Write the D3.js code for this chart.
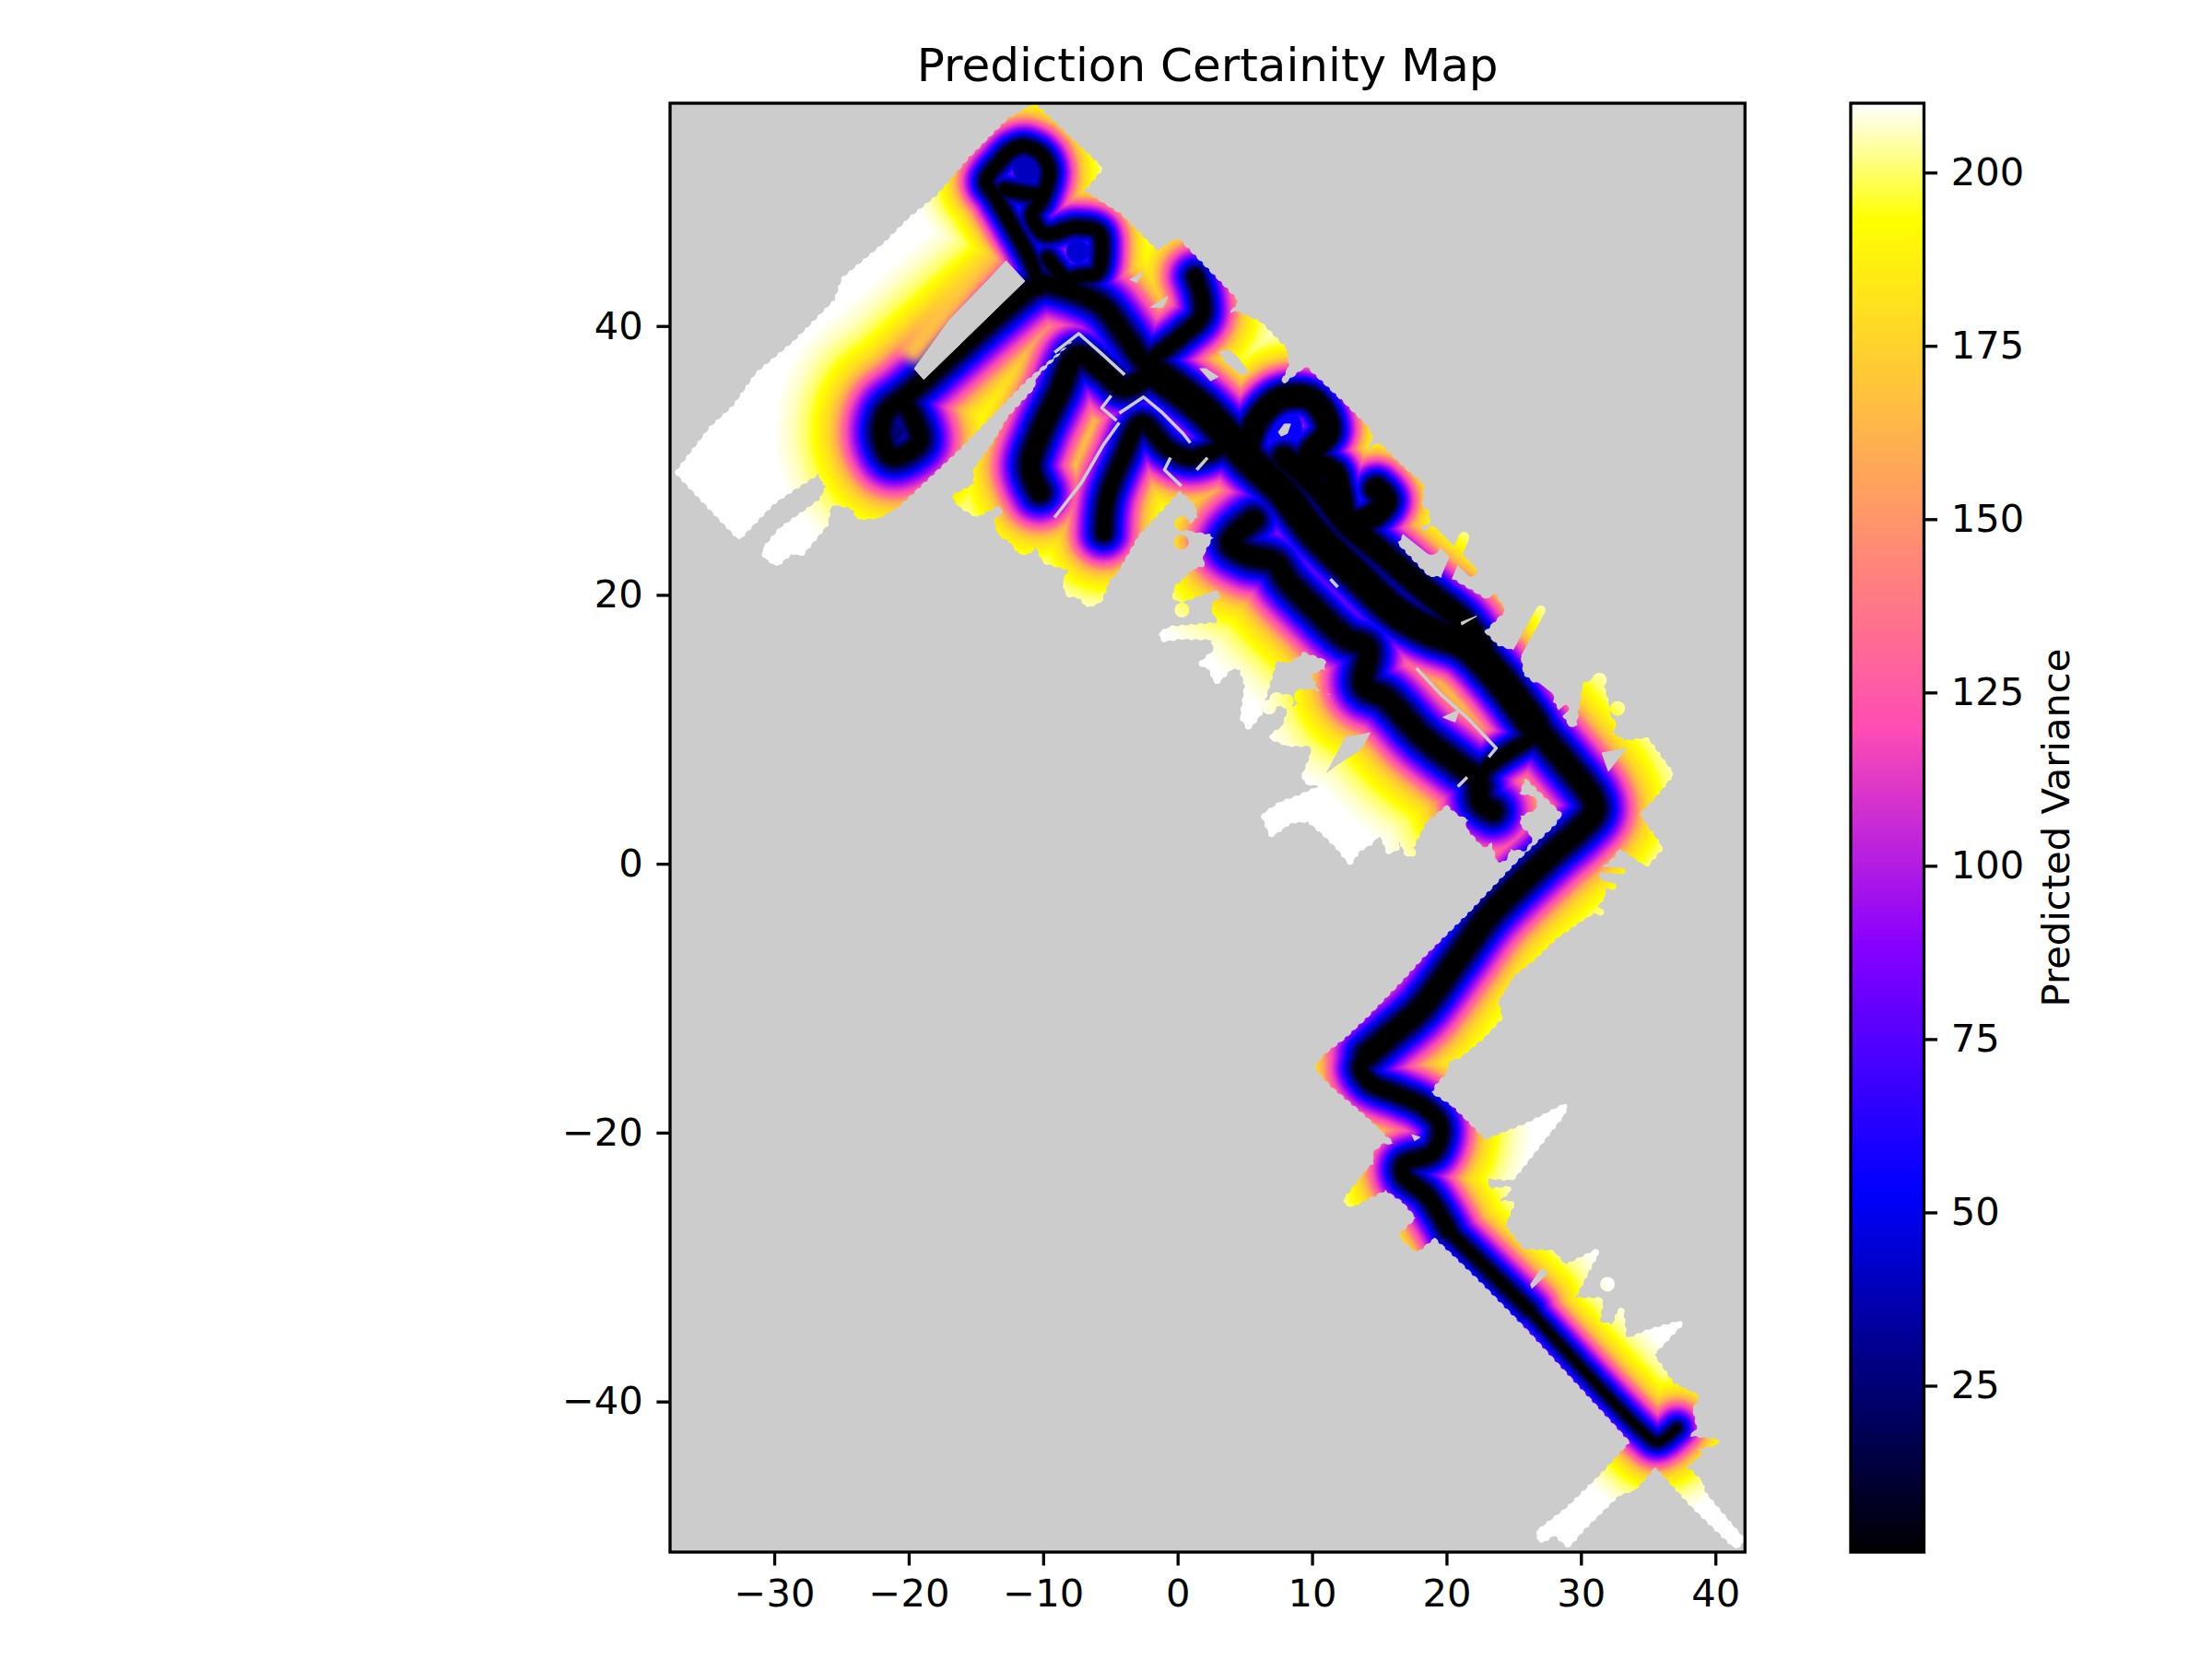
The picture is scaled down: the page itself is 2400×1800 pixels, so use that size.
<!DOCTYPE html>
<html><head><meta charset="utf-8">
<script src="https://cdn.jsdelivr.net/npm/d3@7"></script>
<style>html,body{margin:0;padding:0;background:#fff}svg{display:block}text{font-family:"DejaVu Sans";fill:#000}</style>
</head><body><svg id="c" width="2400" height="1800"></svg>
<script>
const chartTitle = "Prediction Certainity Map";
const colorbarLabel = "Predicted Variance";
const xDomain = [-37.75, 42.2];
const yDomain = [-51.2, 56.57];
const xTicks = [-30,-20,-10,0,10,20,30,40];
const yTicks = [-40,-20,0,20,40];
const varianceDomain = [1, 210];
const varianceTicks = [25,50,75,100,125,150,175,200];

const distanceStops = [0,0.12,0.24,0.4,0.59,0.85,1.15,1.45,1.76,2.2,2.62,3,3.32,4,5,5.8,7,8.5];
const varianceStops = [1,3,8,15,25,38,53,70,90,108,125,143,160,178,192,200,206,210];

// robot path pieces; each has its own spread and core of the variance profile
const armOne = [[-20.05,33.7],[-19.2,31.3],[-21.2,30.15],[-22,31.55],[-21.7,33.4],[-20.05,34.8],[-10.3,43],[-9.7,43],[-7.2,42.2],[-5.6,41.3],[-4,39.2],[-2.6,37.2],[-1.9,36.5]];
const topLoops = [[-10.3,42.6],[-10.85,44.45],[-12.4,47.4],[-13.6,49.5],[-14.26,50.6],[-13.3,52],[-12.4,52.9],[-11.4,53.2],[-10.16,52.6],[-9.6,51.3],[-10.16,49.24],[-10.85,48.1],[-9.93,46.7],[-7.65,47.2],[-5.95,46.85],[-5.7,45.4],[-6.06,43.8],[-7.2,43.55],[-8.3,43.4],[-9.7,44.9]];
const topRingBase = [[-10.16,49.6],[-11.3,49.7],[-12.9,50]];
const armThreeTop = [[1.23,43.55],[1.7,41.95],[1.7,40.6],[0.3,39.2],[-1.73,37.6]];
const armTwo = [[-10.3,27.55],[-11,29.4],[-10.3,31.8],[-8.9,34.85],[-7.5,37.67],[-5.55,36.5],[-4,35.3],[-1.9,36.5]];
const armFour = [[-5.55,24.5],[-5.3,27.1],[-4.15,30.1],[-2.75,32.7],[-0.8,30.8],[0.8,30.1],[2.6,30.6],[4,31.5]];
const corridorTop = [[-1.96,36.5],[1.7,33.75],[5.1,30.1],[7.7,27.6],[9.9,24.7],[13,21.6],[16.2,18.6],[18.5,17.3],[21.3,16.2],[23.6,13.9],[26.3,10.3]];
const upperTrack = [[7.84,30.1],[10.57,27.6],[12.4,25.3],[15.1,23],[18.77,19.85],[21.05,18],[22.5,16]];
const corridorBend = [[26.3,10.3],[29,7.1],[30.6,5],[30.85,3.9],[29.7,2.5],[27.65,0.7],[23.1,-3.76],[20.7,-7.04],[17.9,-10.8],[15.6,-12.8],[14,-14.2]];
const corridorKink = [[14,-14.2],[13.5,-15.1],[14.2,-16.25],[16.2,-17.1],[18.15,-18],[19.4,-19.4],[18.9,-21.4],[16.7,-22.3],[16.7,-23.15],[18.4,-24.6],[20,-27.2]];
const corridorMid = [[20,-27.2],[26,-33.1]];
const corridorTail = [[26,-33.1],[34.6,-42.3],[35.5,-42.9],[36.95,-41.85]];
const lowerBranch = [[5.56,25.5],[3.85,23.8],[5.1,22.9],[7.15,22.35],[8.06,21],[10.1,18.9],[12.4,16.75],[14,16],[13.75,13.2],[15.35,12.3],[18.1,9.4],[20.8,7.3],[22.2,6.2],[22.4,4.6],[23.3,3.9]];
const junctionLink = [[26.75,9.6],[23.1,7.3],[22.2,6.2]];
const upperRing = [[5.1,30.8],[5.8,32.8],[7.6,34.5],[9.9,34.4],[11.1,32.15],[9.66,30.1],[11.5,28.96],[11.9,27.6],[12.5,25.55],[14,25.55],[15.35,26.9],[14.67,27.8]];
const pathLines = [armOne,topLoops,topRingBase,armThreeTop,armTwo,armFour,corridorTop,upperTrack,corridorBend,corridorKink,corridorMid,corridorTail,lowerBranch,junctionLink,upperRing];
const pathSpread = [0.9,0.6,0.6,0.72,0.8,0.75,0.75,0.75,0.85,0.75,0.72,0.65,0.9,0.7,0.6];
const pathCore = [0.4,0.3,0.3,0.35,0.5,0.35,0.85,0.6,0.55,0.35,0.2,0.1,0.5,0.3,0.65];
// darker pockets enclosed by the path: [x, y, radius, variance]
const pockets = [[-11.3,51.5,1,40],[-7.5,45.4,0.85,45],[7.8,32.3,1.4,55],[13.3,26.7,0.6,60],[-21,32,0.6,25]];
// block edge along the open gap, variance runs from the gap outwards: corners, then variance across
const blockEdgeQuad = [[-13.2,44.6],[-19.4,36.9],[-21,38.2],[-14.8,45.9]];
const blockEdgeVariance = [150,178,190];

const coverageOutline = [[-10.7,56.15],[-5.85,51.55],[-8.2,48.75],[-7.2,49.8],[-4.4,48],[-1.6,45.2],[-0.1,46.15],[4.2,41.7],[2.94,40.1],[4.2,40.8],[6,40],[7.84,38.07],[7.95,36.9],[7.38,35.8],[7.84,35.34],[9.43,36.6],[11.94,34.2],[13.99,32.15],[14.2,31.5],[13.3,30],[14.8,31],[16.5,29.3],[18,28.05],[17.86,26.45],[18.4,26],[18.4,25.3],[16.7,24.9],[16,23.7],[17.86,21.7],[18.5,21.1],[20.1,21],[22.78,19.4],[23.44,19.73],[24,18.8],[22.4,17.2],[23.55,16],[25.15,15.5],[25.4,13.9],[26.3,13.2],[27.65,11.87],[28.9,9.93],[29.7,10],[30.15,13.2],[31.2,13.7],[31.76,11.64],[31.98,9.6],[33.1,8.9],[34.7,9.13],[36.5,6.63],[35.4,5.26],[33.9,3.67],[35.7,1.16],[34.7,0],[32.67,1.4],[32,0.47],[30.85,-0.43],[31.5,-2.26],[30.6,-3.6],[29.9,-4],[27.9,-5.4],[26.2,-7.04],[24.7,-8.2],[23.5,-10.2],[23.8,-11.4],[22.5,-12.8],[20.8,-14.2],[19.9,-14.5],[19.7,-15.4],[18.9,-16.25],[18.5,-17.1],[20.1,-18.1],[22.7,-20.7],[25.96,-19.4],[28.65,-18],[28.4,-18.6],[25.5,-22.3],[24.7,-23.3],[22.55,-23.15],[23,-24.3],[24.5,-24.15],[23.3,-25.2],[24.7,-25.2],[24,-26.9],[25.5,-28.8],[27.7,-28.9],[28.65,-30],[31,-28.8],[30.35,-30],[29.1,-32.4],[31.3,-32.4],[31,-34.1],[32.3,-34.4],[32.8,-33.1],[33.05,-35.5],[35,-34.7],[37.2,-34.1],[35,-36.4],[36.6,-38.7],[38.4,-39.55],[37.9,-40.4],[38.2,-41.85],[37.4,-42.6],[39.9,-42.9],[37.9,-43.4],[38.65,-43.7],[37.4,-44.7],[38.65,-45.9],[38.9,-46.75],[41.8,-50.2],[41.3,-50.6],[38.2,-47.6],[35.35,-44.45],[33.75,-46.3],[32.55,-46.7],[29.9,-49.3],[28.9,-50.5],[27.9,-49.6],[26.9,-50.2],[26.7,-49.6],[28.9,-47.9],[31.55,-45.3],[33.75,-42.9],[32.3,-41.3],[25.96,-34.4],[22.55,-30.9],[20.6,-29],[19,-27.5],[17.65,-28.6],[16.55,-27.6],[17.9,-26.3],[16.7,-24.9],[15.35,-24],[12.8,-25.3],[12.4,-25],[14.2,-22.7],[14.7,-22.3],[14.6,-21.55],[15.2,-21],[16.55,-21],[14,-18.55],[11.3,-16.25],[10.3,-15.1],[11.07,-14.2],[12.4,-13.2],[14.2,-11.5],[16.7,-8.9],[18.4,-7.04],[21.7,-3.76],[25.2,-0.03],[28.1,2.75],[28.7,3.7],[24.9,7.4],[25.5,6.4],[25,5],[26.3,4.8],[26.4,4.2],[25.15,3.67],[25.15,2.75],[26.05,1.85],[25.6,1.15],[24.45,1.27],[24.2,0.48],[23.8,0.25],[23.3,1.85],[22.65,1.4],[21.5,2.75],[21.7,3.4],[20.8,3.8],[19.9,4.6],[18.2,3.2],[17.2,1.2],[17.4,0.7],[17,0.7],[16.3,2.3],[16.15,1.2],[15.6,0.9],[15.35,1.6],[14.9,2.4],[14.2,1.6],[13.3,1.05],[12.7,0.15],[11.9,1.2],[11,2.1],[9.66,3.3],[8.3,3.2],[6.9,2.2],[6.35,3.55],[7.6,4.4],[8.75,4.8],[10.57,5.6],[10.45,6.07],[9.77,5.95],[9.3,6.4],[9.9,7.8],[10.1,8.9],[8.06,8.9],[6.9,9.4],[7.84,10.05],[8.3,11.4],[9.66,11.9],[9.66,12.8],[11.7,12.15],[11.95,12.55],[10.57,12.9],[10.1,13.9],[11.03,14.3],[11.14,15.2],[10.1,15.6],[8.97,16],[8.97,15.65],[8.06,15.06],[7.15,15.3],[6.35,12.56],[6,11.2],[5.2,10.15],[4.76,10.85],[5.1,13.25],[4.65,14.6],[3.85,14.6],[2.8,13.5],[2.37,14.6],[1.7,14.8],[2.8,15.75],[2.6,16.8],[0.1,16.85],[-1.05,16.65],[-1.28,17],[-0.6,17.4],[3.28,17.7],[2.6,18.9],[2.8,19.4],[3.5,19.6],[2.94,20.5],[1.9,20.2],[0.32,19.6],[-0.25,19.7],[-0.14,20.4],[1.23,21.67],[2.14,21.9],[2.03,22.8],[2.8,24.2],[2.48,24.6],[0.77,24.86],[1.57,25.55],[1.57,26],[1.34,26.8],[0.32,27.7],[0.17,28],[-3.1,24.5],[-4.75,21.6],[-5.25,21.2],[-5.9,19.5],[-6.75,19.2],[-7.24,19.87],[-8.2,20],[-8.4,20.9],[-7.9,21.9],[-9.9,22.45],[-10.4,23.5],[-10.2,24.6],[-9.2,25.66],[-10.3,25],[-11,23.2],[-11.7,23.1],[-12.4,24],[-13.2,24.5],[-13.5,25.4],[-12.8,25.9],[-13.1,26.85],[-15,25.9],[-16.15,26.6],[-16.6,27.2],[-15,28],[-15,29.2],[-13.6,31.1],[-12.5,33],[-10.55,35.1],[-10.3,36],[-8.9,37.4],[-7.5,38.85],[-7.45,39.4],[-11.4,36],[-16.4,30.85],[-20.9,26.6],[-22.3,25.8],[-23.7,25.7],[-24,26.4],[-24.5,26.6],[-25.9,26.85],[-26.2,25.2],[-28,23],[-28.7,23.2],[-29.8,22.25],[-30.65,22.85],[-30.65,23.3],[-29.5,24.7],[-26.5,26.85],[-25.9,28],[-26.5,28.7],[-25.8,29.7],[-28.7,27.8],[-30.1,26.85],[-31.5,25.4],[-32.6,24.25],[-37.1,29],[-34.6,32.25],[-32.9,33.8],[-31.2,36.25],[-28.4,38.6],[-25.35,41.7],[-24.8,43.3],[-21.7,45.9],[-19.8,47.8],[-17.8,49.4],[-15.3,52.3],[-12.5,55.1]];

const holes = [
 [[-12.8,44.7],[-11.4,43.2],[-18.9,35.9],[-19.6,36.7],[-17,40.3],[-14.1,43.3]],
 [[-2.07,41.26],[-0.8,42.06],[-1.16,41.26]],
 [[-3.6,43.3],[-2.6,43.9],[-3.1,43.1]],
 [[1.57,36.7],[2.37,35.8],[2.94,36.1],[2.03,36.7]],
 [[3.05,37.95],[3.74,38.07],[4.42,37.5],[5.2,36.4],[4.65,36.25],[3.5,37.15]],
 [[7.4,32],[7.84,32.6],[8.3,32.6],[8.06,31.9],[7.6,31.7]],
 [[19.6,10.85],[20.8,11.4],[20.5,10.5]],
 [[31.4,8.2],[33.2,8.55],[31.87,6.85]],
 [[20.95,17.9],[22.1,18.35],[21,17.7]],
 [[17.3,-20.1],[17.9,-20.3],[17.5,-20.55]],
 [[26.1,-31.2],[26.9,-30.05],[27.4,-30.35],[26.2,-31.5]],
 [[14.2,9.7],[13.5,8.45],[11.7,7.3],[11,6.75],[12.4,9.4],[13.3,9.5]]
];
const slivers = [
 [[-9.2,37.9],[-7.4,39.3],[-5.7,37.8],[-4,36.25]],
 [[-4.4,33.4],[-2.6,34.6],[-1.28,33.5],[0.32,31.9],[0.87,31.2]],
 [[-0.6,30.1],[-1.05,29.2],[0.2,28]],
 [[2.14,30.1],[1.34,29.2]],
 [[-5,34.7],[-5.7,33.8],[-4.6,32.85]],
 [[-4.4,32.7],[-5.55,31.1],[-7.2,28.25],[-9.2,25.66]],
 [[17.63,14.5],[19.45,12.55],[21.5,10.73],[23.55,8.56],[23,7.9]],
 [[21.4,6.4],[20.7,5.7]],
 [[11.25,21.1],[11.8,20.5]]
];
const rays = [
 [[26.86,18.8],[25.15,15.7],0.7],[[18.77,24.63],[21.73,21.67],0.8],[[21.16,24.2],[19.9,21.3],0.8],[[16.5,25.3],[18.77,23.5],1.2],
 [[31.07,-0.43],[32.9,-0.55],0.45],[[29.9,-1.1],[32.2,-1.7],0.5],[[29.25,-2.7],[31.3,-3.6],0.5],[[26.5,13],[27.4,12.3],0.9],[[28.7,11.5],[28.1,10.95],0.5]
];
const dots = [[0.2,23.83],[0.25,25.2],[0.25,18.8],[7.27,12.17],[8,12.03],[6.7,11.6],[9.1,12.4],[32.55,11.5],[31.9,10.3],[31.2,13.6],[31.8,-31.2]];

// picture-reading calibration: values above were read at 14.63 px per unit
const cal = ([x,y]) => [1.003*x+0.075, 1.003*y+0.014];

const margin = {left:727,right:1893.3,top:112,bottom:1684};
const svg = d3.select("#c");
const x = d3.scaleLinear().domain(xDomain).range([margin.left,margin.right]);
const y = d3.scaleLinear().domain(yDomain).range([margin.bottom,margin.top]);
const unit = (margin.right-margin.left)/(xDomain[1]-xDomain[0]);
const line = d3.line().x(d=>x(cal(d)[0])).y(d=>y(cal(d)[1]));
const smooth = d3.line().x(d=>x(cal(d)[0])).y(d=>y(cal(d)[1])).curve(d3.curveCatmullRom.alpha(0.5));

const clip01 = v=>Math.max(0,Math.min(1,v));
function gnuplot2(t){
  const r = clip01(t/0.32-0.78125), g = clip01(2*t-0.84);
  const b = clip01(t<0.25?4*t:t<0.92?-2*t+1.84:t/0.08-11.5);
  return `rgb(${Math.round(r*255)},${Math.round(g*255)},${Math.round(b*255)})`;
}
const vNorm = d3.scaleLinear().domain(varianceDomain).range([0,1]);
const distToVar = d3.scaleLinear().domain(distanceStops).range(varianceStops);

const defs = svg.append("defs");
defs.append("clipPath").attr("id","axclip").append("rect").attr("x",margin.left).attr("y",margin.top).attr("width",margin.right-margin.left).attr("height",margin.bottom-margin.top);
const mask = defs.append("mask").attr("id","cover").attr("maskUnits","userSpaceOnUse").attr("x",0).attr("y",0).attr("width",2400).attr("height",1800);
mask.append("path").attr("d",line(coverageOutline)+"Z").attr("fill","#fff").attr("stroke","#fff").attr("stroke-width",5).attr("stroke-linejoin","round");
// scalloped edge, like the overlapping round markers of the original scatter
mask.append("path").attr("d",line(coverageOutline)+"Z").attr("fill","none").attr("stroke","#fff").attr("stroke-width",7.5).attr("stroke-linecap","round").attr("stroke-dasharray","0 10");
mask.selectAll("path.ray").data(rays).join("path").attr("class","ray").attr("d",d=>line([d[0],d[1]])).attr("fill","none").attr("stroke","#fff").attr("stroke-linecap","round").attr("stroke-width",d=>d[2]*unit);
mask.selectAll("circle").data(dots).join("circle").attr("cx",d=>x(cal(d)[0])).attr("cy",d=>y(cal(d)[1])).attr("r",8).attr("fill","#fff");
mask.selectAll("path.hole").data(holes).join("path").attr("class","hole").attr("d",d=>line(d)+"Z").attr("fill","#000").attr("stroke","#000").attr("stroke-width",1);
mask.selectAll("path.sliver").data(slivers).join("path").attr("class","sliver").attr("d",d=>line(d)).attr("fill","none").attr("stroke","#000").attr("stroke-width",3.5).attr("stroke-linejoin","round");

svg.append("rect").attr("x",margin.left).attr("y",margin.top).attr("width",margin.right-margin.left).attr("height",margin.bottom-margin.top).attr("fill","#cccccc");
const field = svg.append("g").attr("clip-path","url(#axclip)").append("g").attr("mask","url(#cover)");
field.append("rect").attr("x",margin.left).attr("y",margin.top).attr("width",margin.right-margin.left).attr("height",margin.bottom-margin.top).attr("fill",gnuplot2(1));
const lineD = pathLines.map(p=>smooth(p));
const levels = d3.range(8.5,-0.001,-0.05);
const drawn = new Set();
levels.forEach(d=>{
  const v = distToVar(d);
  pockets.forEach(p=>{ if(!drawn.has(p) && v<=p[3]){ drawn.add(p);
    field.append("circle").attr("cx",x(cal(p)[0])).attr("cy",y(cal(p)[1])).attr("r",p[2]*unit).attr("fill",gnuplot2(vNorm(p[3])));
  }});
  const g = field.append("g").attr("fill","none").attr("stroke",gnuplot2(vNorm(v))).attr("stroke-linecap","round").attr("stroke-linejoin","round");
  lineD.forEach((dd,i)=>{ const w = 2*(d*pathSpread[i]+pathCore[i])*unit; if(w>0) g.append("path").attr("d",dd).attr("stroke-width",w); });
});
// the far side of the gap keeps the higher variance of its own block
const q = blockEdgeQuad.map(p=>[x(cal(p)[0]),y(cal(p)[1])]);
const grad = defs.append("linearGradient").attr("id","edgeGrad").attr("gradientUnits","userSpaceOnUse")
  .attr("x1",q[0][0]).attr("y1",q[0][1]).attr("x2",q[3][0]).attr("y2",q[3][1]);
grad.append("stop").attr("offset",0).attr("stop-color",gnuplot2(vNorm(blockEdgeVariance[0])));
grad.append("stop").attr("offset",0.55).attr("stop-color",gnuplot2(vNorm(blockEdgeVariance[1])));
grad.append("stop").attr("offset",1).attr("stop-color",gnuplot2(vNorm(blockEdgeVariance[2]))).attr("stop-opacity",0);
const blur = defs.append("filter").attr("id","soft").attr("x","-20%").attr("y","-20%").attr("width","140%").attr("height","140%");
blur.append("feGaussianBlur").attr("stdDeviation",6);
field.append("path").attr("d",line(blockEdgeQuad)+"Z").attr("fill","url(#edgeGrad)").attr("filter","url(#soft)");

const tickLen = 14.58, tickPad = 14.58, lw = 3.33, fs = 41.67;
function fmt(v){return String(v).replace("-","\u2212");}
function styleAxis(g){g.selectAll("path.domain").remove();g.selectAll("line").attr("stroke","#000").attr("stroke-width",lw);g.selectAll("text").attr("font-size",fs).attr("font-family","DejaVu Sans").attr("fill","#000");}
const gx = svg.append("g").attr("transform",`translate(0,${margin.bottom})`).call(d3.axisBottom(x).tickValues(xTicks).tickFormat(fmt).tickSize(tickLen).tickPadding(tickPad));
styleAxis(gx);
const gy = svg.append("g").attr("transform",`translate(${margin.left},0)`).call(d3.axisLeft(y).tickValues(yTicks).tickFormat(fmt).tickSize(tickLen).tickPadding(tickPad));
styleAxis(gy);
svg.append("rect").attr("x",margin.left).attr("y",margin.top).attr("width",margin.right-margin.left).attr("height",margin.bottom-margin.top).attr("fill","none").attr("stroke","#000").attr("stroke-width",lw);
svg.append("text").attr("x",(margin.left+margin.right)/2).attr("y",88).attr("text-anchor","middle").attr("font-size",50).text(chartTitle);

// colorbar
const cb = {left:2008,right:2087.5};
const vy = d3.scaleLinear().domain(varianceDomain).range([margin.bottom,margin.top]);
const cbLevels = d3.range(0,256);
const cellH = (margin.bottom-margin.top)/256;
svg.append("g").selectAll("rect").data(cbLevels).join("rect").attr("x",cb.left).attr("width",cb.right-cb.left)
  .attr("y",d=>margin.bottom-(d+1)*cellH-0.5).attr("height",cellH+1).attr("fill",d=>gnuplot2((d+0.5)/256));
const gc = svg.append("g").attr("transform",`translate(${cb.right},0)`).call(d3.axisRight(vy).tickValues(varianceTicks).tickFormat(fmt).tickSize(tickLen).tickPadding(tickPad));
styleAxis(gc);
svg.append("rect").attr("x",cb.left).attr("y",margin.top).attr("width",cb.right-cb.left).attr("height",margin.bottom-margin.top).attr("fill","none").attr("stroke","#000").attr("stroke-width",lw);
svg.append("text").attr("transform",`translate(2245,${(margin.top+margin.bottom)/2}) rotate(-90)`).attr("text-anchor","middle").attr("font-size",fs).text(colorbarLabel);
</script></body></html>
